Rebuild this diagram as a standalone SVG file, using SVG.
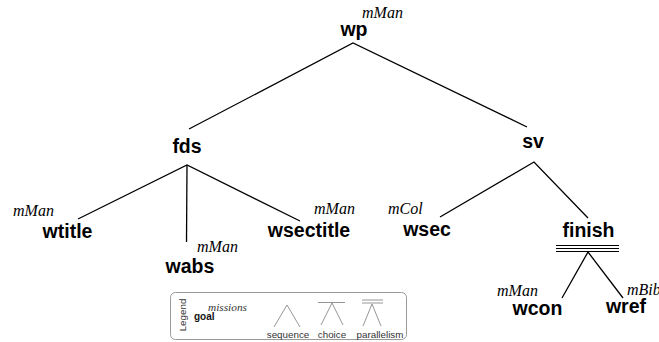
<svg xmlns="http://www.w3.org/2000/svg" width="659" height="342" viewBox="0 0 659 342">
  <style>
    .goal { font-family: "Liberation Sans", Arial, sans-serif; font-weight: bold; font-size: 19.5px; fill: #000; text-anchor: middle; }
    .mission { font-family: "Liberation Serif", "Times New Roman", serif; font-style: italic; font-size: 16px; fill: #000; }
    .edge { stroke: #000; stroke-width: 1.3; fill: none; }
    .bar { stroke: #000; stroke-width: 1; fill: none; }
    .lg-line { stroke: #8a8a8a; stroke-width: 0.9; fill: none; }
    .lg-text { font-family: "Liberation Sans", Arial, sans-serif; font-size: 9.8px; fill: #333; text-anchor: middle; }
  </style>
  <rect width="659" height="342" fill="#fff"/>

  <!-- connectors -->
  <g id="connectors">
    <!-- wp -> fds, sv -->
    <path class="edge" d="M189 129 L353 43 L527 127"/>
    <!-- fds -> wtitle, wabs, wsectitle -->
    <path class="edge" d="M78 219 L187 165 L300 221"/>
    <path class="edge" d="M187 165 L186.5 242"/>
    <!-- sv -> wsec, finish -->
    <path class="edge" d="M440 217 L534 162 L588 218"/>
    <!-- finish (parallel) -> wcon, wref -->
    <path class="bar" d="M556 245.5 H619 M556 248.5 H619 M556 251.5 H619"/>
    <path class="edge" d="M562 298 L588 252 L623 298"/>
  </g>

  <g id="wp">
    <text class="goal" x="354" y="36">wp</text>
    <text class="mission" x="362" y="18">mMan</text>
  </g>
  <g id="fds">
    <text class="goal" x="187" y="153">fds</text>
  </g>
  <g id="sv">
    <text class="goal" x="533" y="148">sv</text>
  </g>
  <g id="wtitle">
    <text class="goal" x="67.5" y="238">wtitle</text>
    <text class="mission" x="13" y="216">mMan</text>
  </g>
  <g id="wabs">
    <text class="goal" x="190" y="273">wabs</text>
    <text class="mission" x="197" y="252">mMan</text>
  </g>
  <g id="wsectitle">
    <text class="goal" x="309" y="237">wsectitle</text>
    <text class="mission" x="314" y="214">mMan</text>
  </g>
  <g id="wsec">
    <text class="goal" x="427" y="236">wsec</text>
    <text class="mission" x="388" y="214">mCol</text>
  </g>
  <g id="finish">
    <text class="goal" x="588.5" y="237">finish</text>
  </g>
  <g id="wcon">
    <text class="goal" x="537.5" y="315">wcon</text>
    <text class="mission" x="497" y="296">mMan</text>
  </g>
  <g id="wref">
    <text class="goal" x="626" y="313">wref</text>
    <text class="mission" x="627" y="295">mBib</text>
  </g>

  <!-- legend -->
  <g id="legend">
    <rect x="170.5" y="292.5" width="236" height="47" rx="5" fill="#fff" stroke="#9a9a9a" stroke-width="1"/>
    <text class="lg-text" font-size="10.2px" transform="translate(186 315) rotate(-90)">Legend</text>
    <text x="208" y="311" font-family="Liberation Serif, 'Times New Roman', serif" font-style="italic" font-size="11.3px" fill="#333">missions</text>
    <text x="194" y="320" font-family="Liberation Sans, Arial, sans-serif" font-weight="bold" font-size="10px" fill="#111">goal</text>
    <!-- sequence -->
    <path class="lg-line" d="M274 327 L287 305 L300 327"/>
    <text class="lg-text" x="288" y="338">sequence</text>
    <!-- choice -->
    <path class="lg-line" d="M318 302.5 H345"/>
    <path class="lg-line" d="M321 325 L332 303 L343 325"/>
    <text class="lg-text" x="332" y="338">choice</text>
    <!-- parallelism -->
    <path class="lg-line" d="M362 300 H383 M362 303 H383"/>
    <path class="lg-line" d="M363 326 L372 304 L381 326"/>
    <text class="lg-text" x="380" y="338">parallelism</text>
  </g>
</svg>
